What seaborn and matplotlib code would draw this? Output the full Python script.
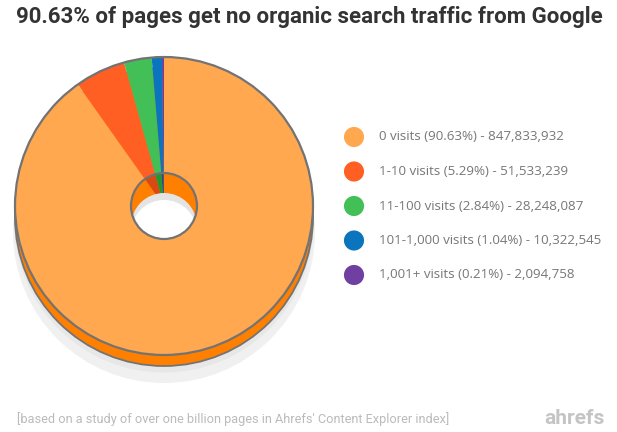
import matplotlib
matplotlib.use("Agg")
import matplotlib.pyplot as plt
from matplotlib.patches import Circle
import seaborn as sns

# ---- data ----
categories = ["0 visits", "1-10 visits", "11-100 visits", "101-1,000 visits", "1,001+ visits"]
percents = [90.63, 5.29, 2.84, 1.04, 0.21]
counts = [847833932, 51533239, 28248087, 10322545, 2094758]
colors = ["#FFA84F", "#FF5F22", "#42BF57", "#0A75BC", "#6F3FA2"]
dark_colors = ["#FF7F00", "#D94A12", "#1E9A30", "#1A4F9C", "#4E2A80"]
title = "90.63% of pages get no organic search traffic from Google"
footnote = "[based on a study of over one billion pages in Ahrefs' Content Explorer index]"
brand = "ahrefs"

sns.set_theme(style="white")
plt.rcParams['font.family'] = ['Roboto', 'DejaVu Sans']

W, H = 617, 432
fig = plt.figure(figsize=(W / 100, H / 100), dpi=100)
ax = fig.add_axes([0, 0, 1, 1])

cx, cy, R, r, depth = 164, H - 206, 149, 33, 11

# shadow
ax.add_patch(Circle((cx, cy - 26), 151, fc="#f0f0f0", ec="none", zorder=1))
ax.add_patch(Circle((cx, cy - 17), 149.5, fc="#e7e7e7", ec="none", zorder=1.5))
# side
ax.add_patch(Circle((cx, cy - depth), R, fc="#FF7F00", ec="#737373", lw=1.3, zorder=2))

# top face
wedges, _ = ax.pie(counts, colors=colors, startangle=90, counterclock=False,
                   center=(cx, cy), radius=R,
                   wedgeprops=dict(width=R - r, linewidth=0))
for w in wedges:
    w.set_zorder(3)
ax.add_patch(Circle((cx, cy), R, fill=False, ec="#737373", lw=1.6, zorder=4))

# hole inner wall
inner, _ = ax.pie(counts, colors=dark_colors, startangle=90, counterclock=False,
                  center=(cx, cy), radius=r, wedgeprops=dict(linewidth=0))
for w in inner:
    w.set_zorder(3)
clip = Circle((cx, cy), r, transform=ax.transData)
g = Circle((cx, cy - 20), r, fc="#e4e4e4", ec="none", zorder=3.2)
ax.add_patch(g); g.set_clip_path(clip)
clip2 = Circle((cx, cy), r, transform=ax.transData)
wh = Circle((cx, cy - 27), r, fc="white", ec="none", zorder=3.3)
ax.add_patch(wh); wh.set_clip_path(clip2)
ax.add_patch(Circle((cx, cy), r, fill=False, ec="#737373", lw=1.6, zorder=4))

# legend
ly = [H - (137 + 34.5 * i) for i in range(len(categories))]
sns.scatterplot(x=[354] * len(categories), y=ly, hue=categories, palette=colors,
                s=210, linewidth=0, legend=False, ax=ax, zorder=5)
for i, (c, p, n) in enumerate(zip(categories, percents, counts)):
    ax.text(379, ly[i], f"{c} ({p:.2f}%) - {n:,}", fontsize=9.6, color="#777777",
            va="center", ha="left", family=["Open Sans", "DejaVu Sans"])

# title & footer
ax.text(16, H - 17, title, fontsize=16, fontweight="bold", color="#333333",
        va="center", ha="left")
ax.text(17, H - 419, footnote, fontsize=9.2, color="#bbbbbb", va="center", ha="left")
ax.text(605, H - 418, brand, fontsize=15, fontweight="bold", color="#c4c4c4",
        va="center", ha="right")

ax.set_xlim(0, W)
ax.set_ylim(0, H)
ax.set_aspect("auto")
ax.axis("off")
fig.savefig("out.png", dpi=100, facecolor="white")
